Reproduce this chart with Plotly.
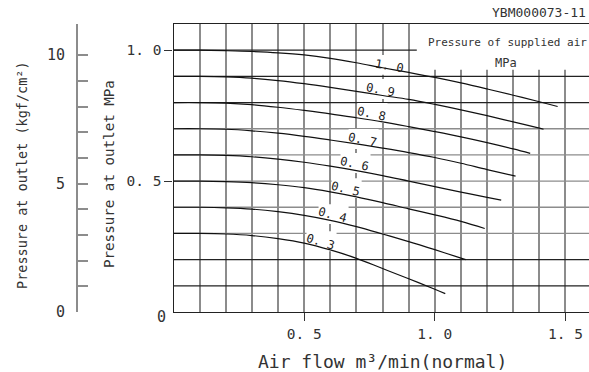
import plotly.graph_objects as go

# supply pressure (MPa) for each curve
supply = ["1. 0", "0. 9", "0. 8", "0. 7", "0. 6", "0. 5", "0. 4", "0. 3"]

# air flow (m3/min normal) and outlet pressure (MPa)
flow_10 = [0, 0.1, 0.2, 0.3, 0.4, 0.5, 0.6, 0.7, 0.8, 0.9, 1.0, 1.1, 1.2, 1.3, 1.4, 1.47]
out_10 = [1.0, 1.0, 0.998, 0.995, 0.99, 0.982, 0.969, 0.952, 0.933, 0.915, 0.896, 0.875, 0.852, 0.828, 0.803, 0.785]
flow_09 = [0, 0.1, 0.2, 0.3, 0.4, 0.5, 0.6, 0.7, 0.8, 0.9, 1.0, 1.1, 1.2, 1.3, 1.4, 1.416]
out_09 = [0.9, 0.9, 0.898, 0.893, 0.884, 0.872, 0.858, 0.843, 0.827, 0.812, 0.793, 0.772, 0.75, 0.726, 0.702, 0.698]
flow_08 = [0, 0.1, 0.2, 0.3, 0.4, 0.5, 0.6, 0.7, 0.8, 0.9, 1.0, 1.1, 1.2, 1.3, 1.365]
out_08 = [0.8, 0.8, 0.798, 0.792, 0.782, 0.77, 0.757, 0.742, 0.726, 0.708, 0.689, 0.669, 0.647, 0.623, 0.606]
flow_07 = [0, 0.1, 0.2, 0.3, 0.4, 0.5, 0.6, 0.7, 0.8, 0.9, 1.0, 1.1, 1.2, 1.309]
out_07 = [0.7, 0.7, 0.698, 0.692, 0.683, 0.671, 0.657, 0.642, 0.626, 0.609, 0.59, 0.568, 0.544, 0.519]
flow_06 = [0, 0.1, 0.2, 0.3, 0.4, 0.5, 0.6, 0.7, 0.8, 0.9, 1.0, 1.1, 1.2, 1.254]
out_06 = [0.6, 0.6, 0.598, 0.593, 0.584, 0.572, 0.557, 0.54, 0.521, 0.5, 0.479, 0.458, 0.438, 0.427]
flow_05 = [0, 0.1, 0.2, 0.3, 0.4, 0.5, 0.6, 0.7, 0.8, 0.9, 1.0, 1.1, 1.191]
out_05 = [0.5, 0.5, 0.498, 0.494, 0.486, 0.475, 0.459, 0.44, 0.418, 0.394, 0.371, 0.346, 0.319]
flow_04 = [0, 0.1, 0.2, 0.3, 0.4, 0.5, 0.6, 0.7, 0.8, 0.9, 1.0, 1.1, 1.118]
out_04 = [0.4, 0.4, 0.398, 0.393, 0.383, 0.369, 0.35, 0.326, 0.298, 0.269, 0.238, 0.206, 0.2]
flow_03 = [0, 0.1, 0.2, 0.3, 0.4, 0.5, 0.6, 0.7, 0.8, 0.9, 1.0, 1.04]
out_03 = [0.3, 0.3, 0.298, 0.292, 0.28, 0.263, 0.237, 0.205, 0.166, 0.127, 0.087, 0.07]

flows = [flow_10, flow_09, flow_08, flow_07, flow_06, flow_05, flow_04, flow_03]
outs = [out_10, out_09, out_08, out_07, out_06, out_05, out_04, out_03]

x_ticks = [0.5, 1.0, 1.5]
x_ticktext = ["0. 5", "1. 0", "1. 5"]
y_ticks = [0.5, 1.0]
y_ticktext = ["0. 5", "1. 0"]
kgf_ticks = list(range(11))
kgf_ticktext = ["0", "", "", "", "", "5", "", "", "", "", "10"]
MPA_PER_KGF = 0.0980665

# where the curve labels sit (flow, pressure) and their tilt
label_x = [0.827, 0.793, 0.759, 0.725, 0.694, 0.660, 0.610, 0.564]
label_y = [0.940, 0.848, 0.756, 0.657, 0.565, 0.469, 0.370, 0.266]
label_angle = [10, 11, 12, 12, 12, 13, 15, 17]

W, H = 589, 372
FONT = "DejaVu Sans Mono"
GRAY = "#8c8c8c"
XMAX, YMAX = 1.59, 1.1

fig = go.Figure()

for fx, fy in zip(flows, outs):
    fig.add_trace(go.Scatter(x=fx, y=fy, mode="lines", line=dict(color="#111", width=1.2),
                             line_shape="spline", showlegend=False, hoverinfo="skip"))

# dummy trace so the kgf/cm2 axis gets drawn
fig.add_trace(go.Scatter(x=[0], y=[0], yaxis="y2", mode="none", showlegend=False, hoverinfo="skip"))

shapes = []
# horizontal grid lines, some darker like the drawing
for i in range(1, 11):
    v = i / 10
    col = "#222" if i in (1, 2, 8, 9, 10) else GRAY
    shapes.append(dict(type="line", xref="x", yref="y", x0=0, x1=XMAX, y0=v, y1=v,
                       line=dict(color=col, width=1.3), layer="between"))
# white patches behind the curve labels
for lx, ly in zip(label_x, label_y):
    shapes.append(dict(type="rect", xref="x", yref="y", x0=lx - 0.055, x1=lx + 0.06,
                       y0=ly - 0.034, y1=ly + 0.042, fillcolor="white",
                       line=dict(width=0), layer="between"))
# white box behind the "Pressure of supplied air" note
shapes.append(dict(type="rect", xref="x", yref="y", x0=0.931, x1=XMAX + 0.05, y0=0.925, y1=YMAX,
                   fillcolor="white", line=dict(width=0), layer="between"))

annotations = []
for txt, lx, ly, ang in zip(supply, label_x, label_y, label_angle):
    annotations.append(dict(x=lx, y=ly, xref="x", yref="y", text=txt, showarrow=False,
                            textangle=ang, font=dict(family=FONT, size=12, color="#222")))


def px(x, y):
    return x / W, 1 - y / H


for txt, (x, y), size, ang, anchor in [
    ("YBM000073-11", px(588, 13), 13, 0, "right"),
    ("Pressure of supplied air", px(507, 42), 11, 0, "center"),
    ("MPa", px(506, 63), 12, 0, "center"),
    ("Air flow m³/min(normal)", px(382, 361), 18, 0, "center"),
    ("Pressure at outlet (kgf/cm²)", px(22, 175), 13.5, -90, "center"),
    ("Pressure at outlet MPa", px(109, 174), 14.2, -90, "center"),
    ("0", px(161, 317), 15, 0, "center"),
]:
    annotations.append(dict(x=x, y=y, xref="paper", yref="paper", text=txt, showarrow=False,
                            textangle=ang, xanchor=anchor, yanchor="middle",
                            font=dict(family=FONT, size=size, color="#333")))

fig.update_layout(
    width=W, height=H,
    margin=dict(l=0, r=0, t=0, b=0),
    paper_bgcolor="white", plot_bgcolor="white",
    shapes=shapes, annotations=annotations,
    font=dict(family=FONT, color="#333"),
    xaxis=dict(domain=[173.5 / W, 1], range=[0, XMAX], tickvals=x_ticks, ticktext=x_ticktext,
               ticks="outside", ticklen=8, tickcolor="#333", tickwidth=1.2,
               tickfont=dict(size=14.5, family=FONT, color="#333"),
               showline=True, mirror=True, linecolor="#222", linewidth=1.3,
               showgrid=True, gridcolor=GRAY, gridwidth=1.6, zeroline=False,
               minor=dict(dtick=0.1, tick0=0, showgrid=True, gridcolor=GRAY, gridwidth=1.6, ticks=""),
               automargin=False, fixedrange=True),
    yaxis=dict(domain=[(H - 312) / H, (H - 24) / H], range=[0, YMAX], tickvals=y_ticks,
               ticktext=y_ticktext, ticks="outside", ticklen=8, tickcolor="#333", tickwidth=1.2,
               tickfont=dict(size=14.5, family=FONT, color="#333"),
               showline=True, linecolor="#222", linewidth=1.3, showgrid=False, zeroline=False,
               automargin=False, fixedrange=True),
    yaxis2=dict(overlaying="y", anchor="free", position=77 / W, side="left",
                range=[0, YMAX / MPA_PER_KGF], tickvals=kgf_ticks, ticktext=kgf_ticktext,
                ticks="inside", ticklen=10, tickcolor=GRAY, tickwidth=1.5,
                ticklabelstandoff=8, tickfont=dict(size=15, family=FONT, color="#333"),
                showline=True, linecolor=GRAY, linewidth=2, showgrid=False, zeroline=False,
                automargin=False, fixedrange=True),
)

# the page's default 8px body margin would push the chart off its box
fig.write_html("out.html", config={"displayModeBar": False},
               post_script="document.body.style.margin='0px';")
